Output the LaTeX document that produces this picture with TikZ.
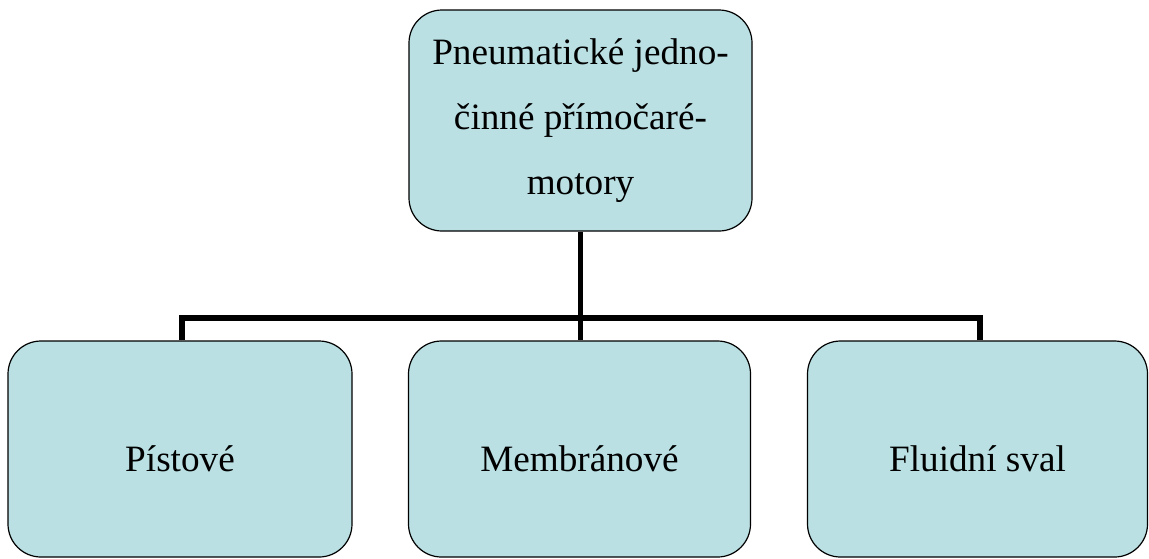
\documentclass[tikz,border=0pt]{standalone}
\usepackage{fontspec}
\setmainfont{Liberation Serif}
\definecolor{boxfill}{RGB}{186,224,227}
\begin{document}
\begin{tikzpicture}[x=0.5pt,y=-0.5pt,
  box/.style={draw=black, line width=0.6pt, fill=boxfill, rounded corners=16.5pt, inner sep=0pt,
    font=\fontsize{18.6}{32.5}\selectfont, align=center},
  lbl/.style={yshift=-5pt, font=\fontsize{18.6}{22}\selectfont},
  conn/.style={line width=2.6pt, draw=black}]
\useasboundingbox (0,0) rectangle (1149,558);
\node[box, minimum width=171.5pt, minimum height=110.5pt] (top) at (580.5,120.5)
  {Pneumatické jedno-\\činné přímočaré-\\motory};
\node[box, minimum width=172pt, minimum height=108pt, label={[lbl]center:Pístové}] (left) at (180,449) {};
\node[box, minimum width=171pt, minimum height=108pt, label={[lbl]center:Membránové}] (mid) at (579.5,449) {};
\node[box, minimum width=170pt, minimum height=108pt, label={[lbl]center:Fluidní sval}] (right) at (977.5,449) {};
\coordinate (j) at (580.5,318);
\draw[conn] (top.south) -- (j) -- (j |- mid.north);
\draw[conn] (left.north -| 182,0) |- (j) -| (right.north -| 980,0);
\end{tikzpicture}
\end{document}
